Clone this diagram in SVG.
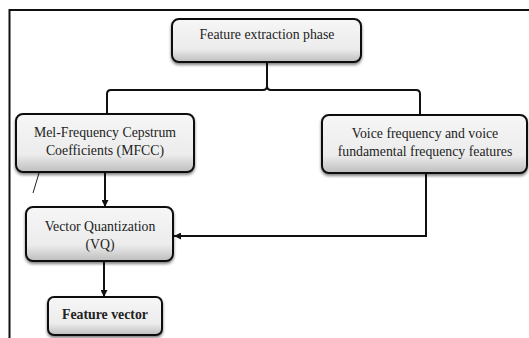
<svg xmlns="http://www.w3.org/2000/svg" width="529" height="338" viewBox="0 0 529 338">
<style>
.box{fill:url(#g);stroke:#111;stroke-width:2}
.t{font-family:'Liberation Serif','DejaVu Serif',serif;font-size:13.8px;fill:#222;text-anchor:middle}
.b{font-weight:bold}
.c{fill:none;stroke:#111;stroke-width:2}
</style>
<defs>
<linearGradient id="g" x1="0" y1="0" x2="0" y2="1">
<stop offset="0" stop-color="#f6f6f6"/>
<stop offset="0.7" stop-color="#ececec"/>
<stop offset="1" stop-color="#bdbdbd"/>
</linearGradient>
<filter id="s" x="-10%" y="-10%" width="120%" height="130%">
<feGaussianBlur in="SourceAlpha" stdDeviation="1.5"/>
<feOffset dx="0" dy="1.5" result="o"/>
<feComponentTransfer><feFuncA type="linear" slope="0.5"/></feComponentTransfer>
<feMerge><feMergeNode/><feMergeNode in="SourceGraphic"/></feMerge>
</filter>
<marker id="a" viewBox="0 0 10 10" refX="10" refY="5" markerWidth="7" markerHeight="7" orient="auto" markerUnits="userSpaceOnUse">
<path d="M0,0 L10,5 L0,10 z" fill="#111"/>
</marker>
</defs>
<rect width="529" height="338" fill="#fff"/>
<path d="M9.5,338 V10 H529" fill="none" stroke="#111" stroke-width="2"/>
<g id="connectors">
<path class="c" d="M267,62 V86 Q267,90 263,90 H111 Q107,90 107,94 V114"/>
<path class="c" d="M267,86 Q267,90 271,90 H416 Q420,90 420,94 V115"/>
<path class="c" d="M105,172 V207" marker-end="url(#a)"/>
<path class="c" d="M104,261 V297" marker-end="url(#a)"/>
<path class="c" d="M426,173 V236 H174" marker-end="url(#a)"/>
<path d="M42,163 L33,193" stroke="#222" stroke-width="1" fill="none"/>
</g>
<g id="n1">
<rect class="box" x="172" y="19" width="189" height="43" rx="7" filter="url(#s)"/>
<text class="t" x="267" y="39">Feature extraction phase</text>
</g>
<g id="n2">
<rect class="box" x="16" y="114" width="178" height="58" rx="7" filter="url(#s)"/>
<text class="t" x="105" y="137">Mel-Frequency Cepstrum</text>
<text class="t" x="105" y="155">Coefficients (MFCC)</text>
</g>
<g id="n3">
<rect class="box" x="322" y="115" width="205" height="58" rx="7" filter="url(#s)"/>
<text class="t" x="425" y="138">Voice frequency and voice</text>
<text class="t" x="425" y="156">fundamental frequency features</text>
</g>
<g id="n4">
<rect class="box" x="26" y="207" width="147" height="54" rx="7" filter="url(#s)"/>
<text class="t" x="100" y="231">Vector Quantization</text>
<text class="t" x="100" y="249">(VQ)</text>
</g>
<g id="n5">
<rect class="box" x="48" y="297" width="114" height="38" rx="6" filter="url(#s)"/>
<text class="t b" x="105" y="319">Feature vector</text>
</g>
</svg>
